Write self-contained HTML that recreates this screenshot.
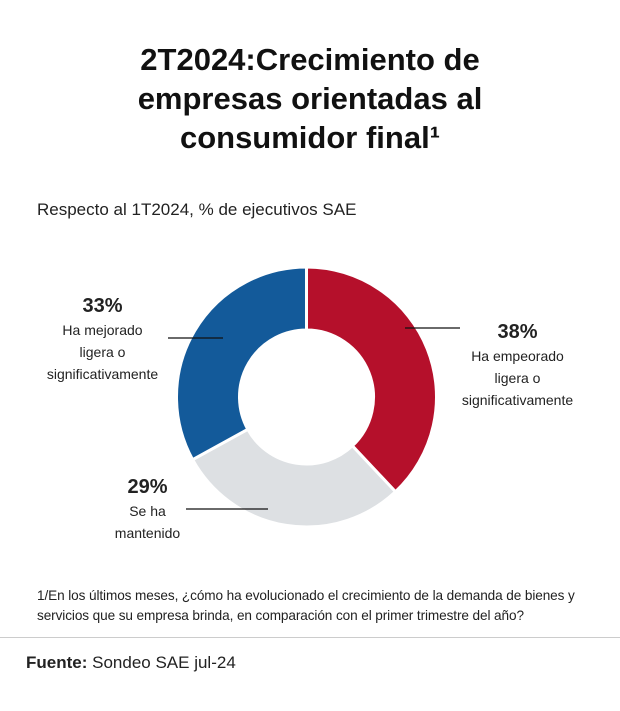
<!DOCTYPE html>
<html><head><meta charset="utf-8"><style>
body{margin:0;width:620px;height:711px;background:#fff;font-family:"Liberation Sans",sans-serif;color:#222;position:relative;overflow:hidden}
.t{position:absolute;left:0;width:620px;text-align:center;top:40px;font-size:31px;font-weight:bold;line-height:39px;color:#111}
.a{position:absolute}
</style></head><body>
<div class="t">2T2024:Crecimiento de<br>empresas orientadas al<br>consumidor final¹</div>
<div class="a" style="left:37px;top:200px;font-size:17px">Respecto al 1T2024, % de ejecutivos SAE</div>
<svg class="a" style="left:0;top:0" width="620" height="711">
<g id="g"></g>
<line x1="168" y1="338" x2="223" y2="338" stroke="#111" stroke-width="1.3"/>
<line x1="405" y1="328" x2="460" y2="328" stroke="#111" stroke-width="1.3"/>
<line x1="186" y1="509" x2="268" y2="509" stroke="#111" stroke-width="1.3"/>
</svg>
<div class="a" style="left:30px;top:293px;width:145px;text-align:center;font-size:14px;line-height:22px"><b style="font-size:20px;line-height:26px">33%</b><br>Ha mejorado<br>ligera o<br>significativamente</div>
<div class="a" style="left:445px;top:319px;width:145px;text-align:center;font-size:14px;line-height:22px"><b style="font-size:20px;line-height:26px">38%</b><br>Ha empeorado<br>ligera o<br>significativamente</div>
<div class="a" style="left:100px;top:474px;width:95px;text-align:center;font-size:14px;line-height:22px"><b style="font-size:20px;line-height:26px">29%</b><br>Se ha<br>mantenido</div>
<div class="a" style="left:37px;top:586px;width:575px;font-size:13.6px;line-height:20px;letter-spacing:-0.1px">1/En los últimos meses, ¿cómo ha evolucionado el crecimiento de la demanda de bienes y<br>servicios que su empresa brinda, en comparación con el primer trimestre del año?</div>
<div class="a" style="left:0;top:637px;width:620px;height:1px;background:#ccc"></div>
<div class="a" style="left:26px;top:653px;font-size:17px"><b>Fuente:</b> Sondeo SAE jul-24</div>
<script>
const categories=["Ha empeorado","Se ha mantenido","Ha mejorado"];
const values=[38,29,33];
const colors=["#b5102b","#dde0e3","#135a9a"];
const cx=306.5,cy=397,R=130,r=67;
const g=document.getElementById('g');
const tot=values.reduce((a,b)=>a+b,0);
let a0=0;
function pt(a,rad){return [cx+rad*Math.sin(a),cy-rad*Math.cos(a)];}
values.forEach((v,i)=>{
const a1=a0+v/tot*2*Math.PI;
const [x1,y1]=pt(a0,R),[x2,y2]=pt(a1,R),[x3,y3]=pt(a1,r),[x4,y4]=pt(a0,r);
const lg=(a1-a0)>Math.PI?1:0;
const p=document.createElementNS('http://www.w3.org/2000/svg','path');
p.setAttribute('d',`M${x1},${y1}A${R},${R} 0 ${lg} 1 ${x2},${y2}L${x3},${y3}A${r},${r} 0 ${lg} 0 ${x4},${y4}Z`);
p.setAttribute('fill',colors[i]);p.setAttribute('stroke','#fff');p.setAttribute('stroke-width','3');


g.appendChild(p);a0=a1;
});
</script>
</body></html>
